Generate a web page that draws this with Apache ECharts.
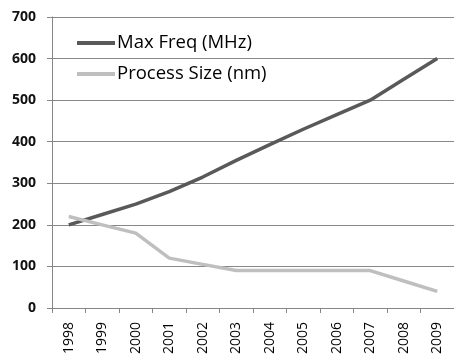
<!DOCTYPE html>
<html>
<head>
<meta charset="utf-8">
<script src="https://cdn.jsdelivr.net/npm/echarts@6/dist/echarts.min.js"></script>
<style>
  html, body { margin: 0; padding: 0; background: #fff; }
  #chart { width: 454px; height: 360px; }
</style>
</head>
<body>
<div id="chart"></div>
<script>
const years = ['1998', '1999', '2000', '2001', '2002', '2003', '2004', '2005', '2006', '2007', '2008', '2009']
const maxFreq = [200, 225, 250, 280, 315, 355, 393, 430, 465, 500, 550, 600]
const processSize = [220, 200, 180, 120, 105, 90, 90, 90, 90, 90, 65, 40]

const chart = echarts.init(document.getElementById('chart'))
const font = 'Open Sans, Liberation Sans, sans-serif'

chart.setOption({
  animation: false,
  grid: { left: 52, right: 0, top: 17, bottom: 52 },
  legend: {
    orient: 'vertical',
    left: 72,
    top: 28,
    itemGap: 11,
    itemWidth: 38,
    itemHeight: 4,
    icon: 'rect',
    textStyle: { fontFamily: font, fontSize: 18.5, lineHeight: 20, color: '#000', padding: [0, 0, 0, -3] },
    data: ['Max Freq (MHz)', 'Process Size (nm)']
  },
  xAxis: {
    type: 'category',
    data: years,
    boundaryGap: true,
    axisLine: { lineStyle: { color: '#868686', width: 1 } },
    axisTick: { show: true, length: 5, lineStyle: { color: '#868686' } },
    axisLabel: { rotate: 90, fontFamily: font, fontSize: 14, color: '#000', margin: 14 }
  },
  yAxis: {
    type: 'value',
    min: 0,
    max: 700,
    interval: 100,
    axisLine: { show: true, lineStyle: { color: '#868686', width: 1 } },
    axisTick: { show: true, length: 5, lineStyle: { color: '#868686' } },
    axisLabel: { fontFamily: font, fontSize: 14, fontWeight: 'bold', color: '#111', margin: 16 },
    splitLine: { lineStyle: { color: '#888', width: 1 } }
  },
  series: [
    {
      name: 'Max Freq (MHz)',
      type: 'line',
      data: maxFreq,
      showSymbol: false,
      itemStyle: { color: '#595959' },
      lineStyle: { color: '#595959', width: 3.5 }
    },
    {
      name: 'Process Size (nm)',
      type: 'line',
      data: processSize,
      showSymbol: false,
      itemStyle: { color: '#bfbfbf' },
      lineStyle: { color: '#bfbfbf', width: 3.5 }
    }
  ]
})
</script>
</body>
</html>
